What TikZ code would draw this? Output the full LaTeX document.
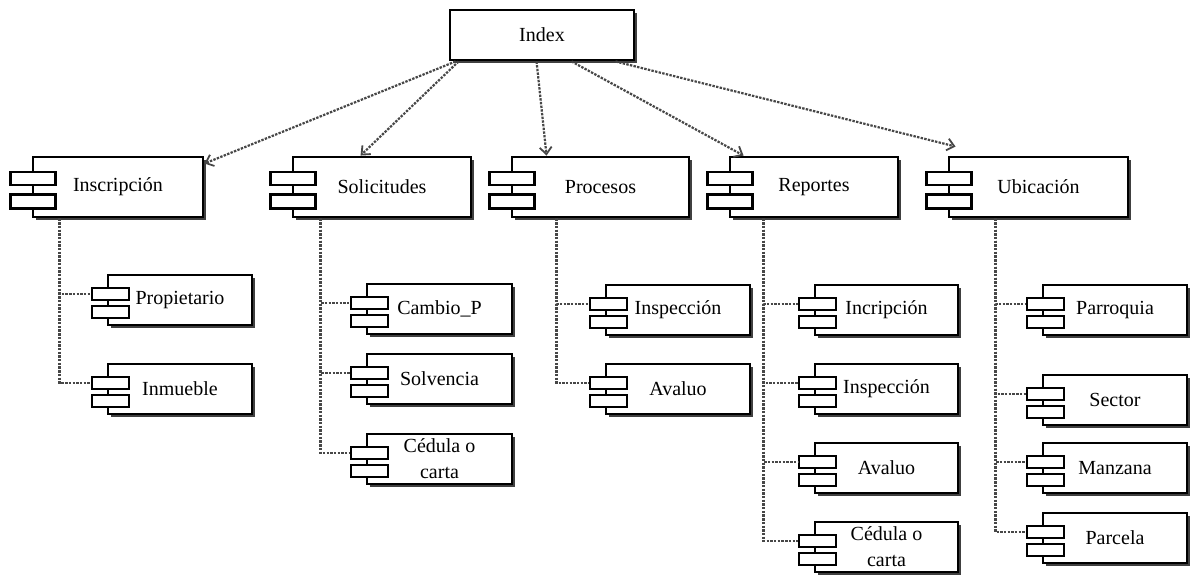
\documentclass[tikz,border=0pt]{standalone}
\usepackage{fontspec}
\setmainfont{Liberation Serif}
\usetikzlibrary{arrows.meta}
\tikzset{
  mainbox/.style={draw=black, fill=white, line width=2.9pt, inner sep=0pt, align=center, font=\fontsize{20}{26}\selectfont},
  portbox/.style={draw=black, fill=white, line width=2.9pt, inner sep=0pt},
  shadowbox/.style={fill=black!75},
  link/.style={draw=black!72, line width=2.2pt, dash pattern=on 2.4pt off 1.3pt},
  arr/.style={link, -{Straight Barb[length=7pt,width=12pt,line width=1.8pt]}},
}
\newcommand\bigcomp[5]{%
  \fill[shadowbox] ({#2+2.5},{#3+2.5}) rectangle ({#4+2.5},{#3+62.5});
  \node[mainbox, minimum width={#4-#2}, minimum height=60] (#1) at ({(#2+#4)/2},{#3+30}) {#5};
  \node[portbox, minimum width=45, minimum height=13] (#1-a) at (#2,{#3+21.5}) {};
  \node[portbox, minimum width=45, minimum height=14] (#1-b) at (#2,{#3+44.5}) {};
}
\newcommand\smallcomp[5]{%
  \fill[shadowbox] ({#2+2.5},{#3+2.5}) rectangle ({#4+2.5},{#3+52.5});
  \node[mainbox, minimum width={#4-#2}, minimum height=50] (#1) at ({(#2+#4)/2},{#3+25}) {#5};
  \node[portbox, minimum width=37, minimum height=12] (#1-a) at ({#2+2.5},{#3+19}) {};
  \node[portbox, minimum width=37, minimum height=12] (#1-b) at ({#2+2.5},{#3+37}) {};
}
\begin{document}
\begin{tikzpicture}[x=1pt,y=-1pt]
\useasboundingbox[fill=white] (0,0) rectangle (1194,574);
% Index
\fill[shadowbox] (452.5,12.5) rectangle (636.5,62.5);
\node[mainbox, minimum width=184, minimum height=50] (index) at (542,35) {Index};
% top level
\bigcomp{insc}{33}{157}{203}{Inscripción}
\bigcomp{soli}{293}{157}{471}{Solicitudes}
\bigcomp{proc}{512}{157}{689}{Procesos}
\bigcomp{repo}{730}{157}{898}{Reportes}
\bigcomp{ubic}{949}{157}{1128}{Ubicación}
% children
\smallcomp{prop}{108}{275}{252}{Propietario}
\smallcomp{inmu}{108}{364}{252}{Inmueble}
\smallcomp{camb}{367}{284}{512}{Cambio\_P}
\smallcomp{solv}{367}{354}{512}{Solvencia}
\smallcomp{cedA}{367}{434}{512}{Cédula o\\carta}
\smallcomp{inspA}{606}{285}{750}{Inspección}
\smallcomp{avalA}{606}{364}{750}{Avaluo}
\smallcomp{incr}{815}{285}{958}{Incripción}
\smallcomp{inspB}{815}{364}{958}{Inspección}
\smallcomp{avalB}{815}{443}{958}{Avaluo}
\smallcomp{cedB}{815}{522}{958}{Cédula o\\carta}
\smallcomp{parr}{1043}{285}{1187}{Parroquia}
\smallcomp{sect}{1043}{375}{1187}{Sector}
\smallcomp{manz}{1043}{443}{1187}{Manzana}
\smallcomp{parc}{1043}{513}{1187}{Parcela}
% arrows from Index
\draw[arr] ([xshift=7]index.south west) -- ([yshift=-8]insc.north east);
\draw[arr] ([xshift=10]index.south west) -- ([xshift=69]soli.north west);
\draw[arr] ([xshift=88]index.south west) -- ([xshift=36]proc.north west);
\draw[arr] ([xshift=123]index.south west) -- ([xshift=15]repo.north west);
\draw[arr] ([xshift=167]index.south west) -- ([xshift=8,yshift=9]ubic.north west);
% trees
\draw[link] ([xshift=28]insc.south west) |- (prop-a.west);
\draw[link] ([xshift=28]insc.south west) |- (inmu-a.west);
\draw[link] ([xshift=29]soli.south west) |- (camb-a.west);
\draw[link] ([xshift=29]soli.south west) |- (solv-a.west);
\draw[link] ([xshift=29]soli.south west) |- (cedA-a.west);
\draw[link] ([xshift=46]proc.south west) |- (inspA-a.west);
\draw[link] ([xshift=46]proc.south west) |- (avalA-a.west);
\draw[link] ([xshift=35]repo.south west) |- (incr-a.west);
\draw[link] ([xshift=35]repo.south west) |- (inspB-a.west);
\draw[link] ([xshift=35]repo.south west) |- (avalB-a.west);
\draw[link] ([xshift=35]repo.south west) |- (cedB-a.west);
\draw[link] ([xshift=48]ubic.south west) |- (parr-a.west);
\draw[link] ([xshift=48]ubic.south west) |- (sect-a.west);
\draw[link] ([xshift=48]ubic.south west) |- (manz-a.west);
\draw[link] ([xshift=48]ubic.south west) |- (parc-a.west);
\end{tikzpicture}
\end{document}
